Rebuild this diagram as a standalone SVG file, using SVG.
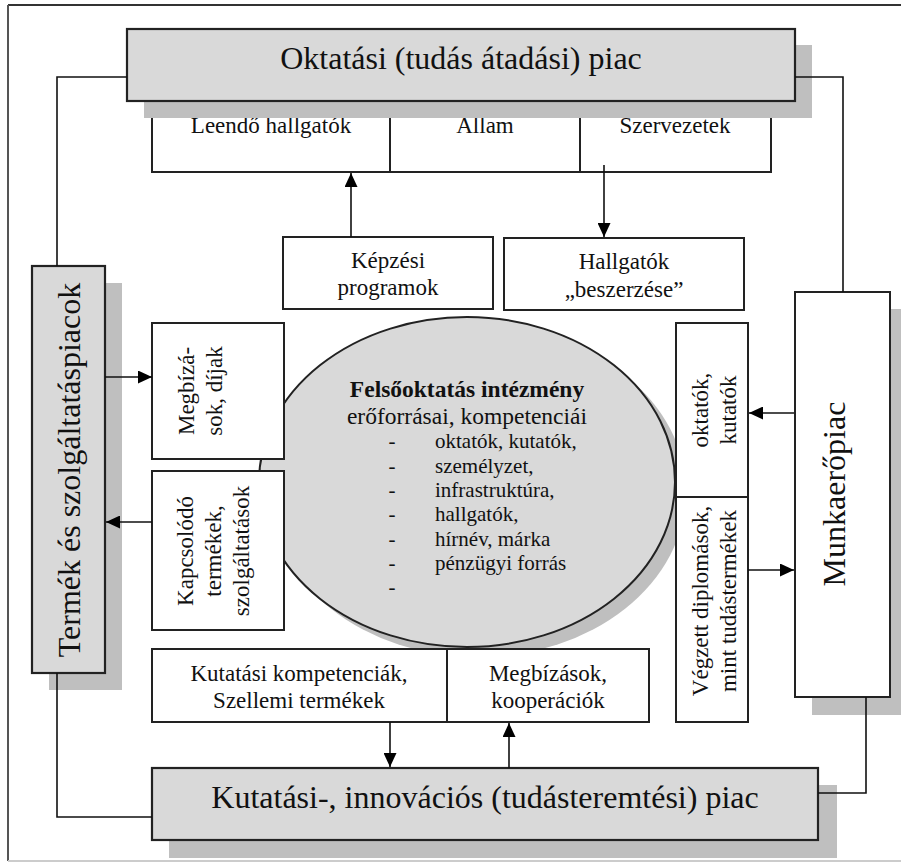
<svg xmlns="http://www.w3.org/2000/svg" width="901" height="863" viewBox="0 0 901 863">
<defs>
<style>
.t{font-family:"Liberation Serif","Times New Roman",Times,serif;fill:#111;text-anchor:middle}
.big{font-size:32px}
.sm{font-size:23px}
.it{font-size:21px}
.box{fill:#fff;stroke:#222;stroke-width:2}
.gbox{fill:#d9d9d9;stroke:#222;stroke-width:2.2}
.sh{fill:#bfbfbf}
.ln{fill:none;stroke:#111;stroke-width:1.6}
</style>
<marker id="ah" markerUnits="userSpaceOnUse" markerWidth="14" markerHeight="13" refX="14" refY="6.5" orient="auto">
<path d="M0,0 L14,6.5 L0,13 z" fill="#000"/>
</marker>
</defs>
<rect x="0" y="0" width="901" height="863" fill="#fff"/>
<g id="frame">
<line x1="8" y1="5" x2="901" y2="5" stroke="#333" stroke-width="2"/>
<line x1="8" y1="5" x2="8" y2="861" stroke="#555" stroke-width="2"/>
<line x1="8" y1="861" x2="901" y2="861" stroke="#ccc" stroke-width="2"/>
</g>
<g id="sub-leendo">
<rect class="box" x="152" y="101" width="238" height="71"/>
<text class="t sm" x="271" y="133">Leendő hallgatók</text>
</g>
<g id="sub-allam">
<rect class="box" x="390" y="101" width="190" height="71"/>
<text class="t sm" x="485" y="133">Állam</text>
</g>
<g id="sub-szervezetek">
<rect class="box" x="580" y="101" width="191" height="71"/>
<text class="t sm" x="675" y="133">Szervezetek</text>
</g>
<g id="oktatasi-piac">
<rect class="sh" x="144" y="45" width="668" height="73"/>
<rect class="gbox" x="127" y="29" width="668" height="72"/>
<text class="t big" x="461" y="69">Oktatási (tudás átadási) piac</text>
</g>
<g id="kepzesi">
<rect class="box" x="283" y="237" width="210" height="72"/>
<text class="t sm" x="388" y="268">Képzési</text>
<text class="t sm" x="388" y="295">programok</text>
</g>
<g id="hallgatok-beszerzese">
<rect class="box" x="504" y="238" width="240" height="72"/>
<text class="t sm" x="624" y="269">Hallgatók</text>
<text class="t sm" x="624" y="297">„beszerzése”</text>
</g>
<g id="termek-piac">
<rect class="sh" x="49" y="283" width="73" height="407"/>
<rect class="gbox" x="32" y="266" width="73" height="407"/>
<text class="t big" transform="translate(80,470) rotate(-90)">Termék és szolgáltatáspiacok</text>
</g>
<g id="munkaeropiac">
<rect class="sh" x="812" y="309" width="95" height="406"/>
<rect class="box" x="795" y="292" width="95" height="405" stroke-width="2.2"/>
<text class="t big" transform="translate(845,494) rotate(-90)">Munkaerőpiac</text>
</g>
<g id="intezmeny">
<ellipse class="sh" cx="478" cy="492" rx="208" ry="165"/>
<ellipse cx="467" cy="482" rx="208" ry="165" fill="#d9d9d9" stroke="#222" stroke-width="2"/>
<text class="t" x="467" y="397" font-size="23.5" font-weight="bold">Felsőoktatás intézmény</text>
<text class="t" x="467" y="424" font-size="23.5">erőforrásai, kompetenciái</text>
<g class="t it">
<text x="392" y="448">-</text>
<text x="392" y="472.5">-</text>
<text x="392" y="497">-</text>
<text x="392" y="521">-</text>
<text x="392" y="545.5">-</text>
<text x="392" y="570">-</text>
<text x="392" y="594">-</text>
</g>
<g class="t it" style="text-anchor:start">
<text x="435" y="448">oktatók, kutatók,</text>
<text x="435" y="472.5">személyzet,</text>
<text x="435" y="497">infrastruktúra,</text>
<text x="435" y="521">hallgatók,</text>
<text x="435" y="545.5">hírnév, márka</text>
<text x="435" y="570">pénzügyi forrás</text>
</g>
</g>
<g id="megbizasok-dijak">
<rect class="box" x="152" y="323" width="132" height="136"/>
<text class="t sm" transform="translate(194,391) rotate(-90)"><tspan x="0" y="0">Megbízá-</tspan><tspan x="0" y="28">sok, díjak</tspan></text>
</g>
<g id="kapcsolodo">
<rect class="box" x="152" y="471" width="132" height="159"/>
<text class="t sm" transform="translate(193,551) rotate(-90)"><tspan x="0" y="0">Kapcsolódó</tspan><tspan x="0" y="28">termékek,</tspan><tspan x="0" y="56">szolgáltatások</tspan></text>
</g>
<g id="oktatok-kutatok">
<rect class="box" x="676" y="323" width="72" height="174"/>
<text class="t sm" transform="translate(708,410) rotate(-90)"><tspan x="0" y="0">oktatók,</tspan><tspan x="0" y="28">kutatók</tspan></text>
</g>
<g id="vegzett">
<rect class="box" x="676" y="497" width="72" height="225"/>
<text class="t sm" transform="translate(708,601) rotate(-90)"><tspan x="0" y="0">Végzett diplomások,</tspan><tspan x="0" y="28">mint tudástermékek</tspan></text>
</g>
<g id="kutatasi-kompetenciak">
<rect class="box" x="152" y="649" width="295" height="73"/>
<text class="t sm" x="299" y="681">Kutatási kompetenciák,</text>
<text class="t sm" x="299" y="708">Szellemi termékek</text>
</g>
<g id="megbizasok-kooperaciok">
<rect class="box" x="447" y="649" width="202" height="73"/>
<text class="t sm" x="548" y="681">Megbízások,</text>
<text class="t sm" x="548" y="708">kooperációk</text>
</g>
<g id="kutatasi-piac">
<rect class="sh" x="169" y="785" width="668" height="73"/>
<rect class="gbox" x="152" y="768" width="666" height="72"/>
<text class="t big" x="485" y="808">Kutatási-, innovációs (tudásteremtési) piac</text>
</g>
<g id="connectors">
<path class="ln" d="M127,77 H57 V266"/>
<path class="ln" d="M795,77 H843 V292"/>
<path class="ln" d="M57,673 V817 H152"/>
<path class="ln" d="M866,697 V793 H818"/>
<path class="ln" d="M351,237 V173" marker-end="url(#ah)"/>
<path class="ln" d="M604,165 V237" marker-end="url(#ah)"/>
<path class="ln" d="M105,377 H152" marker-end="url(#ah)"/>
<path class="ln" d="M152,522 H106" marker-end="url(#ah)"/>
<path class="ln" d="M794,413 H749" marker-end="url(#ah)"/>
<path class="ln" d="M748,570 H794" marker-end="url(#ah)"/>
<path class="ln" d="M390,722 V767" marker-end="url(#ah)"/>
<path class="ln" d="M509,768 V723" marker-end="url(#ah)"/>
</g>
</svg>
